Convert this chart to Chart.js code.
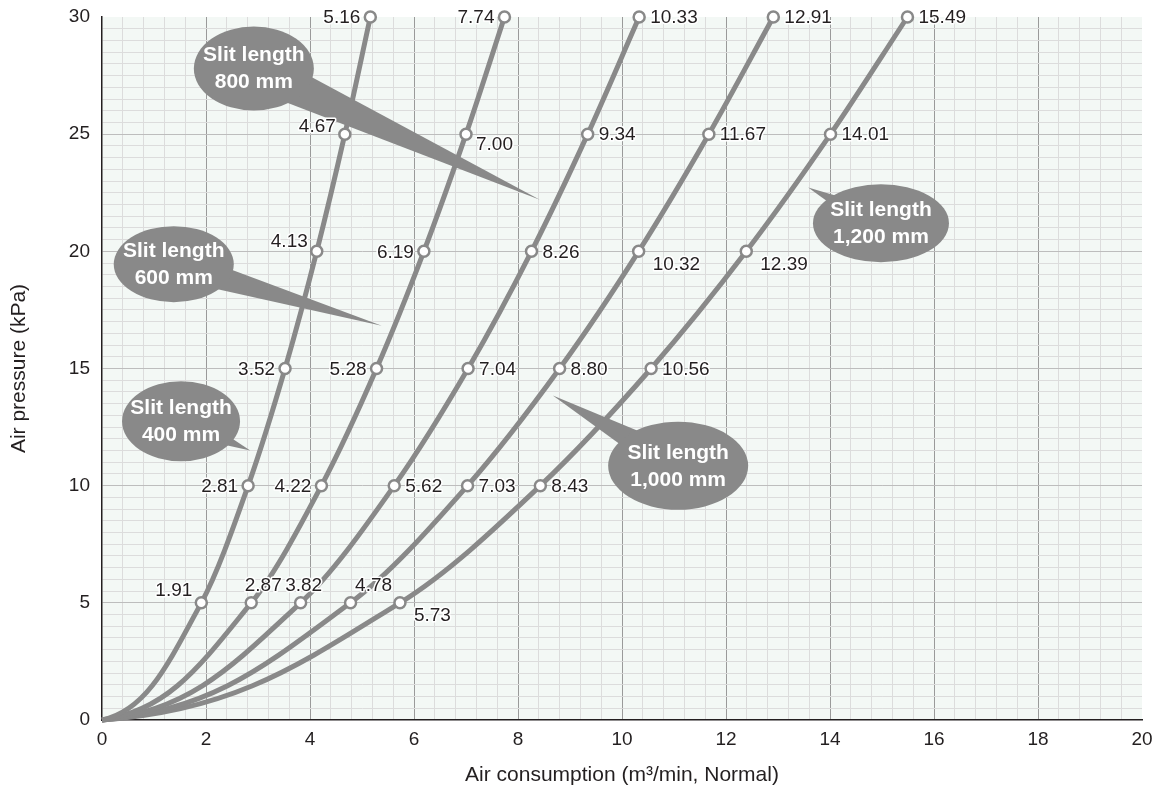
<!DOCTYPE html>
<html>
<head>
<meta charset="utf-8">
<script src="https://cdn.jsdelivr.net/npm/chart.js@4.4.0/dist/chart.umd.min.js"></script>
<style>
  body { margin: 0; background: #fff; }
  canvas { display: block; }
</style>
</head>
<body>
<canvas id="chart" width="1156" height="794"></canvas>
<script>
// air pressure (kPa) at each marked point, curves start from the origin
const pressures = [0, 5, 10, 15, 20, 25, 30];

// air consumption (m3/min) per slit length
const slit400 = [0, 1.91, 2.81, 3.52, 4.13, 4.67, 5.16];
const slit600 = [0, 2.87, 4.22, 5.28, 6.19, 7.00, 7.74];
const slit800 = [0, 3.82, 5.62, 7.04, 8.26, 9.34, 10.33];
const slit1000 = [0, 4.78, 7.03, 8.80, 10.32, 11.67, 12.91];
const slit1200 = [0, 5.73, 8.43, 10.56, 12.39, 14.01, 15.49];

const xTicks = [0, 2, 4, 6, 8, 10, 12, 14, 16, 18, 20];
const yTicks = [0, 5, 10, 15, 20, 25, 30];

const calloutTitles = ['Slit length', 'Slit length', 'Slit length', 'Slit length', 'Slit length'];
const calloutSizes = ['400 mm', '600 mm', '800 mm', '1,000 mm', '1,200 mm'];

const FONT = '"Liberation Sans", Arial, sans-serif';
const INK = '#231f20';
const CURVE = '#898989';

// where each value label sits next to its point: [align, dx, dy]
const R = ['left', 11, 1], L = ['right', -10, 1];
const labelPlaces = [
    [['right', -9, -12], L, L, ['right', -9, -10], ['right', -9, -7], L],
    [['center', 12, -17], L, L, L, ['left', 10, 11], L],
    [['center', 3, -17], R, R, R, R, R],
    [['center', 23, -17], R, R, ['left', 14, 13], R, R],
    [['left', 14, 13], R, R, ['left', 14, 13], R, R]
];

// callouts: ellipse centre and pointer tip in chart units, size in px
const callouts = [
    {cx: 1.52, cy: 12.75, rx: 59, ry: 40, tx: 2.85, ty: 11.5, half: 14},
    {cx: 1.38, cy: 19.45, rx: 60, ry: 38, tx: 5.38, ty: 16.82, half: 15},
    {cx: 2.92, cy: 27.8, rx: 60, ry: 42, tx: 8.42, ty: 22.2, half: 20},
    {cx: 11.08, cy: 10.85, rx: 70, ry: 44, tx: 8.67, ty: 13.85, half: 17},
    {cx: 14.98, cy: 21.2, rx: 68, ry: 39, tx: 13.58, ty: 22.72, half: 14}
];

const series = [slit400, slit600, slit800, slit1000, slit1200];

function isMajor(v, step) {
    return Math.abs(v / step - Math.round(v / step)) < 1e-6;
}

const plotBackground = {
    id: 'plotBackground',
    beforeDraw(chart) {
        const {ctx, chartArea: a} = chart;
        ctx.save();
        ctx.fillStyle = '#f3f8f5';
        ctx.fillRect(a.left, a.top, a.right - a.left, a.bottom - a.top);
        ctx.restore();
    }
};

// let each curve leave the origin gently, like the printed chart
const softStart = {
    id: 'softStart',
    beforeDatasetDraw(chart, args) {
        const line = args.meta.dataset;
        line.updateControlPoints(chart.chartArea, 'x');
        const pts = args.meta.data;
        const p0 = pts[0], p1 = pts[1];
        p0.cp2x = p0.x + (p1.x - p0.x) * 0.45;
        p0.cp2y = p0.y + (p1.y - p0.y) * 0.08;
    }
};

const calloutPlugin = {
    id: 'callouts',
    afterDatasetsDraw(chart) {
        const {ctx, scales: {x, y}} = chart;
        ctx.save();
        ctx.fillStyle = '#898989';
        callouts.forEach(c => {
            const cx = x.getPixelForValue(c.cx), cy = y.getPixelForValue(c.cy);
            const tx = x.getPixelForValue(c.tx), ty = y.getPixelForValue(c.ty);
            const ang = Math.atan2(ty - cy, tx - cx);
            const px = -Math.sin(ang) * c.half, py = Math.cos(ang) * c.half;
            ctx.beginPath();
            ctx.moveTo(cx + px, cy + py);
            ctx.lineTo(tx, ty);
            ctx.lineTo(cx - px, cy - py);
            ctx.closePath();
            ctx.fill();
            ctx.beginPath();
            ctx.ellipse(cx, cy, c.rx, c.ry, 0, 0, Math.PI * 2);
            ctx.fill();
        });
        ctx.fillStyle = '#fff';
        ctx.font = 'bold 21px ' + FONT;
        ctx.textAlign = 'center';
        ctx.textBaseline = 'middle';
        callouts.forEach((c, i) => {
            const cx = x.getPixelForValue(c.cx), cy = y.getPixelForValue(c.cy);
            ctx.fillText(calloutTitles[i], cx, cy - 13);
            ctx.fillText(calloutSizes[i], cx, cy + 14);
        });
        ctx.restore();
    }
};

const valueLabels = {
    id: 'valueLabels',
    afterDatasetsDraw(chart) {
        const {ctx} = chart;
        ctx.save();
        ctx.font = '19px ' + FONT;
        ctx.textBaseline = 'middle';
        ctx.lineJoin = 'round';
        chart.data.datasets.forEach((ds, si) => {
            const meta = chart.getDatasetMeta(si);
            meta.data.forEach((pt, i) => {
                if (i === 0) return;
                const [align, dx, dy] = labelPlaces[si][i - 1];
                const text = ds.data[i].x.toFixed(2);
                ctx.textAlign = align;
                ctx.strokeStyle = '#fff';
                ctx.lineWidth = 3;
                ctx.strokeText(text, pt.x + dx, pt.y + dy);
                ctx.fillStyle = INK;
                ctx.fillText(text, pt.x + dx, pt.y + dy);
            });
        });
        ctx.restore();
    }
};

new Chart(document.getElementById('chart'), {
    type: 'line',
    data: {
        datasets: series.map(s => ({
            data: s.map((v, i) => ({x: v, y: pressures[i]})),
            borderColor: CURVE,
            borderWidth: 5,
            cubicInterpolationMode: 'monotone',
            clip: false,
            pointRadius: s.map((v, i) => i === 0 ? 0 : 5.5),
            pointBackgroundColor: '#fff',
            pointBorderColor: CURVE,
            pointBorderWidth: 2.5
        }))
    },
    options: {
        responsive: false,
        animation: false,
        events: [],
        layout: {
            padding: {top: 17, right: 14, left: 2, bottom: 4}
        },
        plugins: {
            legend: {display: false},
            tooltip: {enabled: false}
        },
        scales: {
            x: {
                type: 'linear',
                min: 0,
                max: 20,
                afterFit(scale) {
                    scale.height = 70;
                    scale.paddingLeft = 0;
                    scale.paddingRight = 0;
                },
                border: {display: true, color: INK, width: 1.5},
                grid: {
                    drawTicks: false,
                    color: ctx => {
                        const v = ctx.tick.value;
                        if (v >= 19.99 || v < 0.01) return 'rgba(0,0,0,0)';
                        return isMajor(v, 2) ? '#9a9a9a' : '#dcdcdc';
                    }
                },
                ticks: {
                    stepSize: 0.4,
                    autoSkip: false,
                    maxRotation: 0,
                    padding: 8,
                    color: INK,
                    font: {family: FONT, size: 19},
                    callback: v => isMajor(v, 2) && xTicks.includes(Math.round(v)) ? String(Math.round(v)) : ''
                },
                title: {
                    display: true,
                    text: 'Air consumption (m³/min, Normal)',
                    color: INK,
                    font: {family: FONT, size: 21},
                    padding: {top: 4, bottom: 2}
                }
            },
            y: {
                type: 'linear',
                min: 0,
                max: 30,
                afterFit(scale) {
                    scale.width = 100;
                    scale.paddingTop = 0;
                    scale.paddingBottom = 0;
                },
                border: {display: true, color: INK, width: 1.5},
                grid: {
                    drawTicks: false,
                    color: ctx => {
                        const v = ctx.tick.value;
                        if (v >= 29.99 || v < 0.01) return 'rgba(0,0,0,0)';
                        return isMajor(v, 5) ? '#bdbdbd' : '#dcdcdc';
                    }
                },
                ticks: {
                    stepSize: 0.5,
                    autoSkip: false,
                    padding: 12,
                    color: INK,
                    font: {family: FONT, size: 19},
                    callback: v => isMajor(v, 5) && yTicks.includes(Math.round(v)) ? String(Math.round(v)) : ''
                },
                title: {
                    display: true,
                    text: 'Air pressure (kPa)',
                    color: INK,
                    font: {family: FONT, size: 21},
                    padding: {top: 5, bottom: 4}
                }
            }
        }
    },
    plugins: [plotBackground, softStart, calloutPlugin, valueLabels]
});
</script>
</body>
</html>
